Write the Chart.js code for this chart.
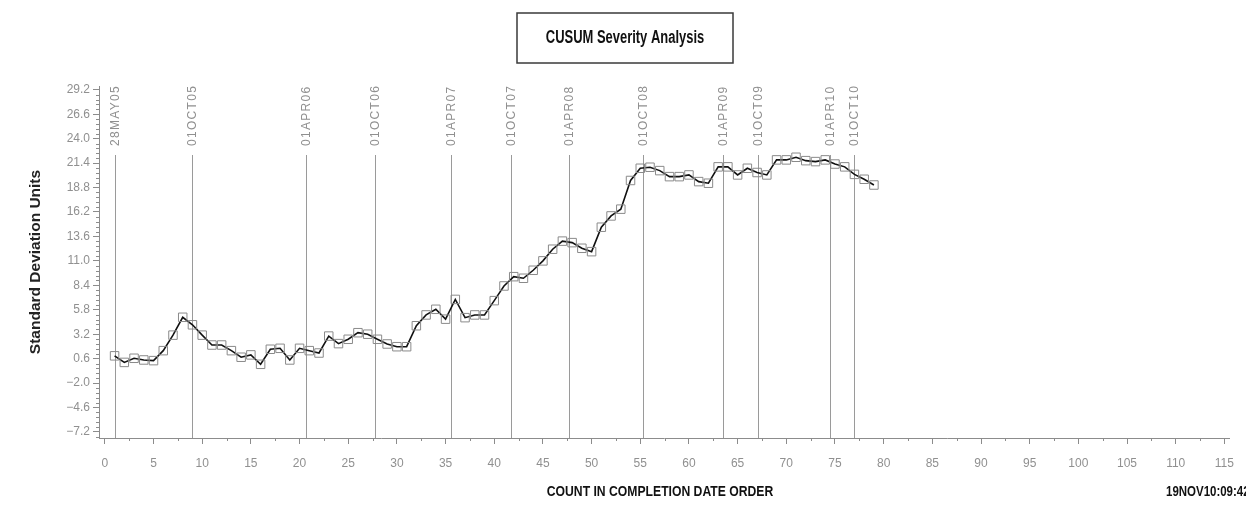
<!DOCTYPE html>
<html>
<head>
<meta charset="utf-8">
<title>CUSUM Severity Analysis</title>
<script src="https://cdn.jsdelivr.net/npm/chart.js@4.4.1/dist/chart.umd.min.js"></script>
<style>
  html, body { margin: 0; padding: 0; background: #ffffff; }
  #wrap { width: 1246px; height: 508px; position: relative; }
</style>
</head>
<body>
<div id="wrap"><canvas id="cusumChart" width="1246" height="508"></canvas></div>
<script>
// Completion-order index of each observation
const counts = [
   1,  2,  3,  4,  5,  6,  7,  8,  9, 10,
  11, 12, 13, 14, 15, 16, 17, 18, 19, 20,
  21, 22, 23, 24, 25, 26, 27, 28, 29, 30,
  31, 32, 33, 34, 35, 36, 37, 38, 39, 40,
  41, 42, 43, 44, 45, 46, 47, 48, 49, 50,
  51, 52, 53, 54, 55, 56, 57, 58, 59, 60,
  61, 62, 63, 64, 65, 66, 67, 68, 69, 70,
  71, 72, 73, 74, 75, 76, 77, 78, 79
];

// Cumulative sum in standard deviation units
const cusum = [
   0.90,  0.20,  0.64,  0.46,  0.39,  1.45,  3.10,  5.00,  4.20,  3.10,
   2.05,  2.05,  1.45,  0.75,  1.00,  0.00,  1.60,  1.70,  0.46,  1.70,
   1.45,  1.20,  3.00,  2.20,  2.66,  3.36,  3.20,  2.66,  2.16,  1.87,
   1.87,  4.10,  5.25,  5.85,  4.80,  6.90,  4.96,  5.25,  5.25,  6.77,
   8.33,  9.32,  9.15, 10.00, 11.00, 12.24, 13.10, 12.94, 12.34, 11.98,
  14.58, 15.78, 16.50, 19.55, 20.85, 20.96, 20.60, 19.96, 19.96, 20.14,
  19.43, 19.26, 21.00, 21.00, 20.14, 20.85, 20.40, 20.14, 21.74, 21.74,
  22.02, 21.66, 21.56, 21.74, 21.30, 21.00, 20.20, 19.68, 19.07
];

// Calendar markers placed along the count axis
const eventCounts = [1.0, 9.0, 20.7, 27.8, 35.6, 41.7, 47.7, 55.3, 63.5, 67.1, 74.5, 77.0];
const eventLabels = ['28MAY05', '01OCT05', '01APR06', '01OCT06', '01APR07', '01OCT07',
                     '01APR08', '01OCT08', '01APR09', '01OCT09', '01APR10', '01OCT10'];

// Axis tick values
const xTicks = [0, 5, 10, 15, 20, 25, 30, 35, 40, 45, 50, 55, 60, 65, 70, 75, 80, 85, 90, 95, 100, 105, 110, 115];
const yTicks = [-7.2, -4.6, -2.0, 0.6, 3.2, 5.8, 8.4, 11.0, 13.6, 16.2, 18.8, 21.4, 24.0, 26.6, 29.2];

const titleText = 'CUSUM Severity Analysis';
const xTitle = 'COUNT IN COMPLETION DATE ORDER';
const yTitle = 'Standard Deviation Units';
const runStamp = '19NOV10:09:42';

const GREY = '#8c8c8c';
const LABEL_GREY = '#909090';
const SANS = '"Liberation Sans", Arial, sans-serif';

const points = counts.map((c, i) => ({ x: c, y: cusum[i] }));

function fmtY(v) {
  const s = Math.abs(v).toFixed(1);
  return v < 0 ? '\u2212' + s : s;
}

// Bold text squeezed horizontally, in the style of a narrow face
function narrowText(ctx, text, x, y, size, squeeze, align) {
  ctx.save();
  ctx.font = 'bold ' + size + 'px ' + SANS;
  ctx.fillStyle = '#111';
  ctx.textBaseline = 'middle';
  ctx.textAlign = align;
  ctx.translate(x, y);
  ctx.scale(squeeze, 1);
  ctx.fillText(text, 0, 0);
  ctx.restore();
}

// Reference lines, their date labels, minor ticks, titles and run stamp
const decor = {
  id: 'decor',
  beforeDatasetsDraw(chart) {
    const { ctx, chartArea, scales } = chart;
    const xs = scales.x;
    const top = chartArea.top + 69;
    ctx.save();
    ctx.strokeStyle = '#9a9a9a';
    ctx.lineWidth = 1;
    eventCounts.forEach((c, i) => {
      const px = Math.round(xs.getPixelForValue(c)) + 0.5;
      ctx.beginPath();
      ctx.moveTo(px, chartArea.bottom);
      ctx.lineTo(px, top);
      ctx.stroke();
      ctx.save();
      ctx.translate(px, top - 9);
      ctx.rotate(-Math.PI / 2);
      ctx.font = '12px ' + SANS;
      ctx.letterSpacing = '1.3px';
      ctx.fillStyle = LABEL_GREY;
      ctx.textAlign = 'left';
      ctx.textBaseline = 'middle';
      ctx.fillText(eventLabels[i], 0, 0);
      ctx.restore();
    });
    ctx.restore();
  },
  afterDraw(chart) {
    const { ctx, chartArea, scales } = chart;
    const xs = scales.x, ys = scales.y;
    ctx.save();
    ctx.strokeStyle = GREY;
    ctx.lineWidth = 1;
    // minor ticks on the count axis
    for (let v = 2.5; v < xs.max; v += 5) {
      const px = Math.round(xs.getPixelForValue(v)) + 0.5;
      ctx.beginPath();
      ctx.moveTo(px, chartArea.bottom);
      ctx.lineTo(px, chartArea.bottom + 3);
      ctx.stroke();
    }
    // minor ticks on the value axis
    const step = 0.52;
    for (let k = -1; ; k++) {
      const v = yTicks[0] + k * step;
      if (v > ys.max) break;
      if (v < ys.min || ((k % 5) + 5) % 5 === 0) continue;
      const py = Math.round(ys.getPixelForValue(v)) + 0.5;
      ctx.beginPath();
      ctx.moveTo(chartArea.left - 3, py);
      ctx.lineTo(chartArea.left, py);
      ctx.stroke();
    }
    // framed chart title
    const cx = 625, cy = 38;
    ctx.strokeStyle = '#3a3a3a';
    ctx.lineWidth = 1.5;
    ctx.strokeRect(cx - 108, cy - 25, 216, 50);
    narrowText(ctx, titleText, cx, cy, 18, 0.72, 'center');
    // axis title under the count axis
    narrowText(ctx, xTitle, 660, 492, 14, 0.87, 'center');
    // run date/time stamp
    narrowText(ctx, runStamp, 1166, 492, 14, 0.82, 'left');
    ctx.restore();
  }
};

new Chart(document.getElementById('cusumChart'), {
  type: 'line',
  data: {
    datasets: [{
      data: points,
      borderColor: '#111111',
      borderWidth: 1.6,
      tension: 0,
      pointStyle: 'rect',
      pointRadius: 6,
      pointBorderColor: '#8a8a8a',
      pointBorderWidth: 1,
      pointBackgroundColor: 'rgba(255,255,255,0)',
      fill: false
    }]
  },
  options: {
    responsive: false,
    animation: false,
    devicePixelRatio: 1,
    layout: { padding: { left: 0, right: 13, top: 86, bottom: 0 } },
    plugins: {
      legend: { display: false },
      tooltip: { enabled: false },
      title: { display: false }
    },
    scales: {
      x: {
        type: 'linear',
        min: -0.6,
        max: 115.5,
        afterBuildTicks(scale) { scale.ticks = xTicks.map(v => ({ value: v })); },
        afterFit(scale) { scale.height = 70; },
        border: { display: true, color: GREY, width: 1 },
        grid: { display: true, drawOnChartArea: false, drawTicks: true, tickLength: 6, color: GREY, tickColor: GREY },
        ticks: {
          color: LABEL_GREY,
          font: { family: SANS, size: 12 },
          padding: 12,
          maxRotation: 0,
          autoSkip: false,
          callback: v => String(v)
        }
      },
      y: {
        type: 'linear',
        min: -7.84,
        max: 29.6,
        afterBuildTicks(scale) { scale.ticks = yTicks.map(v => ({ value: v })); },
        afterFit(scale) { scale.width = 99; },
        border: { display: true, color: GREY, width: 1 },
        grid: { display: true, drawOnChartArea: false, drawTicks: true, tickLength: 6, color: GREY, tickColor: GREY },
        ticks: {
          color: LABEL_GREY,
          font: { family: SANS, size: 12 },
          padding: 3,
          autoSkip: false,
          callback: v => fmtY(v)
        },
        title: {
          display: true,
          text: yTitle,
          color: '#222',
          font: { family: SANS, size: 15.5, weight: 'bold', lineHeight: 1.2 },
          padding: { top: 26.7, bottom: 0 }
        }
      }
    }
  },
  plugins: [decor]
});
</script>
</body>
</html>
